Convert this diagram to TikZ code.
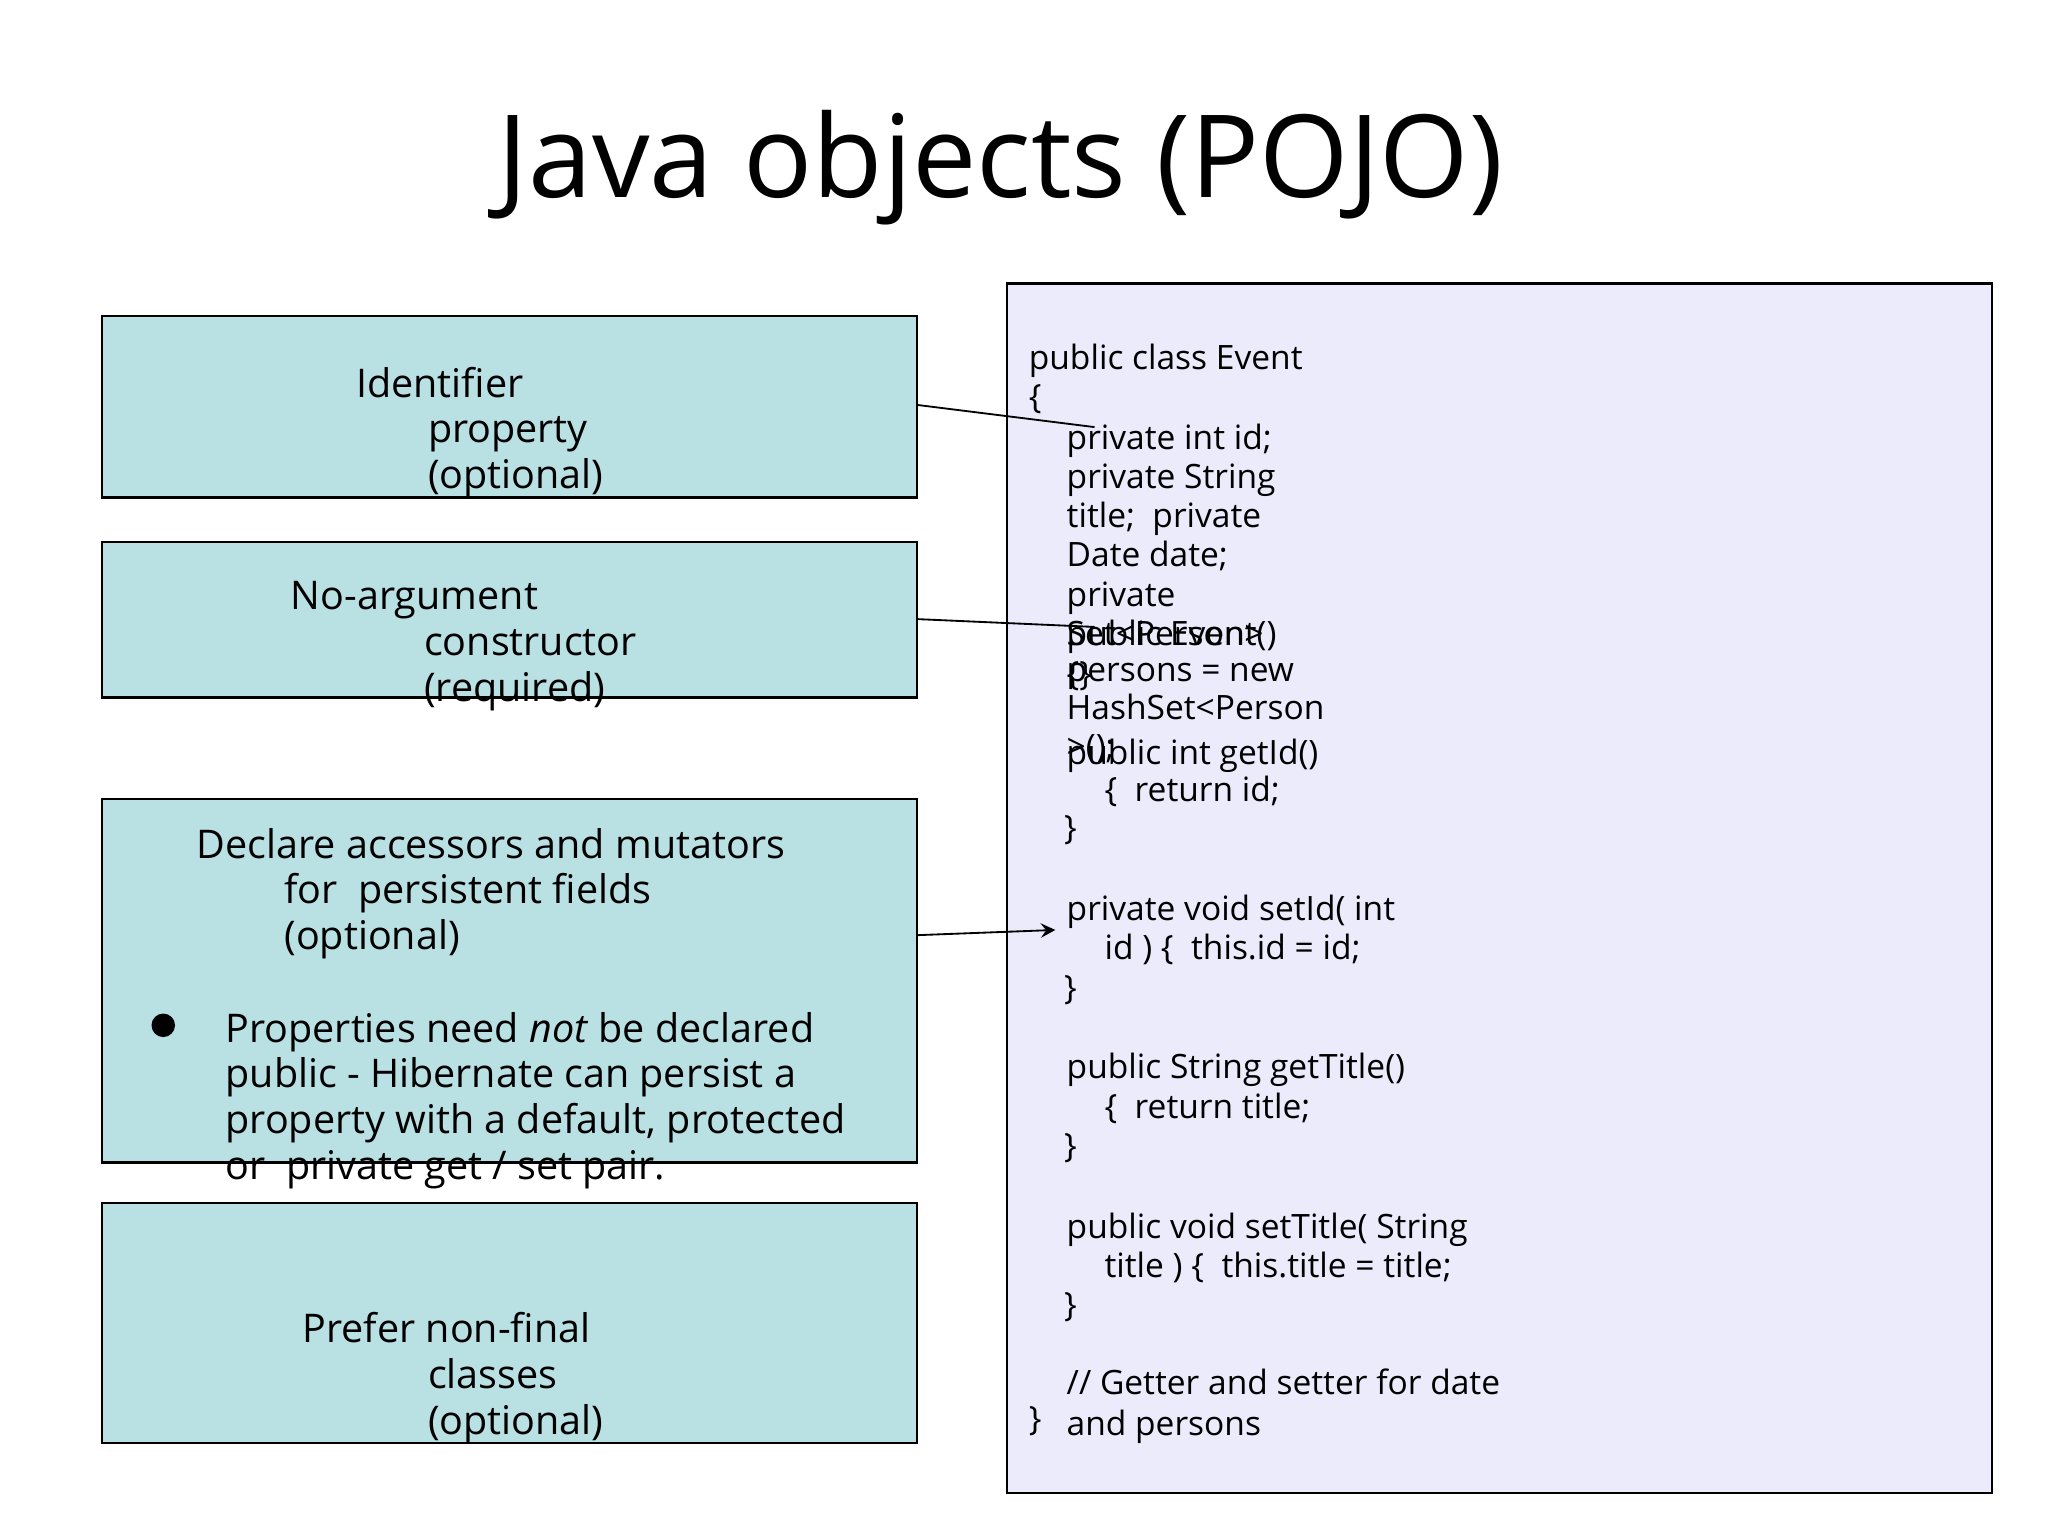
\documentclass[tikz,border=0pt]{standalone}
\usepackage{fontspec}
\setmainfont{Open Sans}
\begin{document}
\begin{tikzpicture}[x=0.01cm,y=-0.01cm,
  lbox/.style={draw=black,fill={rgb,255:red,185;green,224;blue,227},line width=0.5pt},
  cbox/.style={draw=black,fill={rgb,255:red,235;green,235;blue,252},line width=0.5pt},
  bt/.style={anchor=base west,inner sep=0pt,font=\fontsize{8.6pt}{10pt}\selectfont},
  ct/.style={anchor=base west,inner sep=0pt,font=\fontsize{7.3pt}{8pt}\selectfont},
  conn/.style={draw=black,line width=0.4pt}]
\useasboundingbox (0,0) rectangle (1568,1176);
\node[inner sep=0pt,font=\fontsize{25pt}{30pt}\selectfont] (title) at (766,128) {Java objects (POJO)};
\path[lbox] (78,242) rectangle (702,381);
\path[lbox] (78,415) rectangle (702,534);
\path[lbox] (78,612) rectangle (702,890);
\path[lbox] (78,921) rectangle (702,1105);
\path[cbox] (771,217) rectangle (1525,1143);
\coordinate (a1) at (702,310); \coordinate (b1) at (838,327);
\coordinate (a2) at (702,474); \coordinate (b2) at (838,480);
\coordinate (a3) at (702,716); \coordinate (b3) at (808,712);
\draw[conn] (a1) -- (b1);
\draw[conn] (a2) -- (b2);
\draw[conn,-stealth] (a3) -- (b3);
\node[bt] (l1) at (272,304) {Identifier};
\node[bt] (l2) at (327,339) {property};
\node[bt] (l3) at (327,374) {(optional)};
\node[bt] (l4) at (222,467) {No-argument};
\node[bt] (l5) at (324,502) {constructor};
\node[bt] (l6) at (324,537) {(required)};
\node[bt] (l7) at (150,657) {Declare accessors and mutators};
\node[bt] (l8) at (217,692) {for\ \ persistent fields};
\node[bt] (l9) at (217,727) {(optional)};
\fill (125,785) circle (9);
\node[bt] (l10) at (172,798) {Properties need \textit{not} be declared};
\node[bt] (l11) at (172,833) {public - Hibernate can persist a};
\node[bt] (l12) at (172,868) {property with a default, protected};
\node[bt] (l13) at (172,903) {or\ \ private get / set pair.};
\node[bt] (l14) at (231,1028) {Prefer non-final};
\node[bt] (l15) at (327,1063) {classes};
\node[bt] (l16) at (327,1098) {(optional)};
\node[ct] (c1) at (787,283) {public class Event};
\node[ct] (c2) at (787,313) {\{};
\node[ct] (c3) at (816,344) {private int id;};
\node[ct] (c4) at (816,374) {private String};
\node[ct] (c5) at (816,404) {title;\ \ private};
\node[ct] (c6) at (816,434) {Date date;};
\node[ct] (c7) at (816,464) {private};
\node[ct] (c8) at (816,494) {Set<Person>};
\node[ct] (c8b) at (816,494) {public Event()};
\node[ct] (c9b) at (816,525) {\{\}};
\node[ct] (c9) at (816,522) {persons = new};
\node[ct] (c10) at (816,551) {HashSet<Person};
\node[ct] (c11) at (816,581) {>();};
\node[ct] (c11b) at (816,585) {public int getId()};
\node[ct] (c12) at (845,614) {\{\ \ return id;};
\node[ct] (c13) at (814,643) {\}};
\node[ct] (c14) at (816,705) {private void setId( int};
\node[ct] (c15) at (845,735) {id ) \{\ \ this.id = id;};
\node[ct] (c16) at (814,765) {\}};
\node[ct] (c17) at (816,826) {public String getTitle()};
\node[ct] (c18) at (845,856) {\{\ \ return title;};
\node[ct] (c19) at (814,886) {\}};
\node[ct] (c20) at (816,948) {public void setTitle( String};
\node[ct] (c21) at (845,978) {title ) \{\ \ this.title = title;};
\node[ct] (c22) at (814,1008) {\}};
\node[ct] (c23) at (816,1068) {// Getter and setter for date};
\node[ct] (c24) at (787,1095) {\}};
\node[ct] (c25) at (816,1099) {and persons};
\end{tikzpicture}
\end{document}
